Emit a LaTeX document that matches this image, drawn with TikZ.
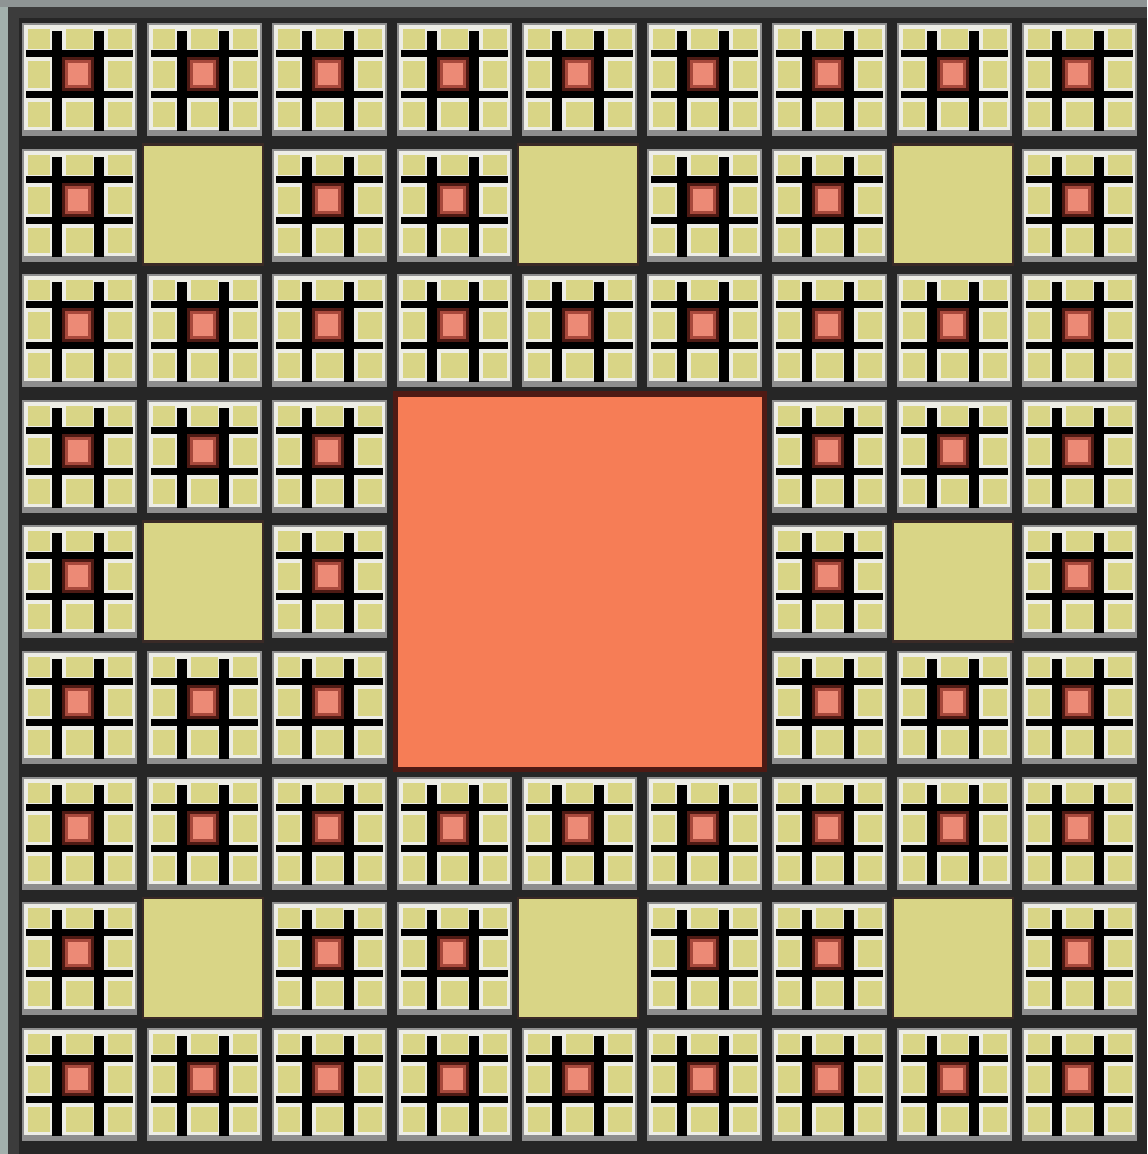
\documentclass[tikz,border=0pt]{standalone}
\definecolor{ylw}{HTML}{D9D586}
\definecolor{sal}{HTML}{EC8A76}
\definecolor{midred}{HTML}{A8493C}
\definecolor{dred}{HTML}{4E1A14}
\definecolor{org}{HTML}{F67D56}
\definecolor{gapc}{HTML}{262626}
\definecolor{framec}{HTML}{3C3C3C}
\definecolor{rimc}{HTML}{8E8E8E}
\definecolor{wht}{HTML}{EDEDE6}
\definecolor{leftc}{HTML}{A2B0AC}
\definecolor{topc}{HTML}{8E9494}
\definecolor{edgec}{HTML}{3A2A26}
\tikzset{
  cellpic/.pic={
    \fill[rimc] (0,0) rectangle (115,113);
    \fill[wht] (2,2) rectangle (113,107);
    \foreach \ca/\cb in {6/28,44/71,86/110}{
      \foreach \ra/\rb in {6/26,38/65,79/104}{
        \fill[ylw] (\ca,\ra) rectangle (\cb,\rb);
      }
    }
    \fill[black] (30,8) rectangle (40,108);
    \fill[black] (72,8) rectangle (82,108);
    \fill[black] (4,27) rectangle (111,34);
    \fill[black] (4,68) rectangle (111,75);
    \fill[dred] (40,34) rectangle (72,68);
    \fill[midred] (43,37) rectangle (69,65);
    \fill[sal] (46,40) rectangle (66,62);
  },
  plainsq/.style={fill=ylw, draw=edgec, line width=1.2pt},
  centresq/.style={fill=org, draw=dred, line width=2.5pt}
}
\begin{document}
\begin{tikzpicture}[x=0.5pt,y=-0.5pt]
\fill[gapc] (0,0) rectangle (1147,1154);
\useasboundingbox (0,0) rectangle (1147,1154);
\fill[framec] (0,0) rectangle (1147,18);
\fill[framec] (0,0) rectangle (19,1154);
\fill[leftc] (0,0) rectangle (8,1154);
\fill[topc] (0,0) rectangle (1147,7);
\foreach \i in {0,...,8}{
  \foreach \j in {0,...,8}{
    \pgfmathsetmacro\xo{22+125*\i}
    \pgfmathsetmacro\yo{23+125.6*\j}
    \pgfmathtruncatemacro\ctr{and(and(\i>2,\i<6),and(\j>2,\j<6))}
    \pgfmathtruncatemacro\pl{and(mod(\i,3)==1,mod(\j,3)==1)}
    \ifnum\ctr=1\relax
    \else
      \ifnum\pl=1\relax
        \path[plainsq] (\xo-4,\yo-4) rectangle (\xo+116,\yo+116);
      \else
        \pic at (\xo,\yo) {cellpic};
      \fi
    \fi
  }
}
\path[centresq] (395,394) rectangle (764,769);
\end{tikzpicture}
\end{document}
